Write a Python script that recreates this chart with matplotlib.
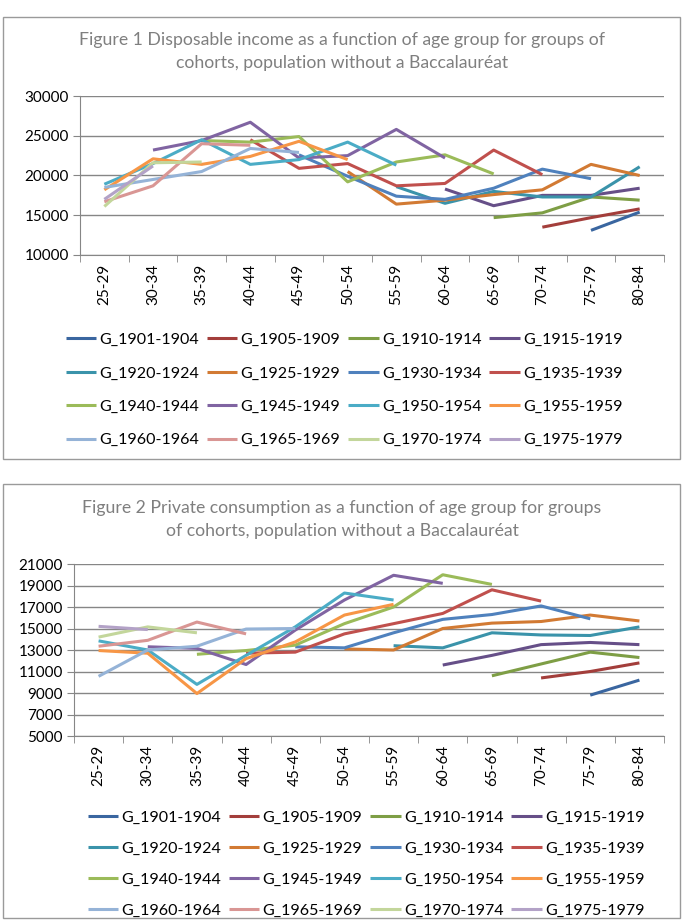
import numpy as np
import matplotlib
matplotlib.use("Agg")
from matplotlib import pyplot as plt
from matplotlib.patches import Rectangle

plt.rcParams['font.family'] = ['Lato', 'DejaVu Sans']

age_groups = ['25-29', '30-34', '35-39', '40-44', '45-49', '50-54',
              '55-59', '60-64', '65-69', '70-74', '75-79', '80-84']
cohorts = ['G_1901-1904', 'G_1905-1909', 'G_1910-1914', 'G_1915-1919',
           'G_1920-1924', 'G_1925-1929', 'G_1930-1934', 'G_1935-1939',
           'G_1940-1944', 'G_1945-1949', 'G_1950-1954', 'G_1955-1959',
           'G_1960-1964', 'G_1965-1969', 'G_1970-1974', 'G_1975-1979']
colors = ['#3A66A0', '#A33E3B', '#7E9E45', '#664F88', '#3A93AA', '#D27A33',
          '#4F81BD', '#C0504D', '#9BBB59', '#8064A2', '#4BACC6', '#F79646',
          '#95B3D7', '#D99694', '#C3D69B', '#B3A2C7']

N = None
# Figure 1 - disposable income
inc_1901 = [N, N, N, N, N, N, N, N, N, N, 13100, 15400]
inc_1905 = [N, N, N, N, N, N, N, N, N, 13500, 14700, 15800]
inc_1910 = [N, N, N, N, N, N, N, N, 14700, 15300, 17300, 16900]
inc_1915 = [N, N, N, N, N, N, N, 18300, 16200, 17500, 17500, 18400]
inc_1920 = [N, N, N, N, N, N, 18600, 16500, 18000, 17300, 17300, 21100]
inc_1925 = [N, N, N, N, N, 20500, 16400, 16900, 17600, 18200, 21400, 20000]
inc_1930 = [N, N, N, N, 22600, 19900, 17400, 17000, 18400, 20800, 19600, N]
inc_1935 = [N, N, N, 24500, 20900, 21500, 18700, 19000, 23200, 20100, N, N]
inc_1940 = [N, N, 24400, 24200, 24900, 19200, 21700, 22600, 20200, N, N, N]
inc_1945 = [N, 23200, 24400, 26700, 22200, 22500, 25800, 22200, N, N, N, N]
inc_1950 = [18900, 21500, 24500, 21400, 22000, 24200, 21300, N, N, N, N, N]
inc_1955 = [18200, 22100, 21400, 22400, 24300, 22000, N, N, N, N, N, N]
inc_1960 = [18500, 19500, 20500, 23400, 22900, N, N, N, N, N, N, N]
inc_1965 = [16700, 18700, 24000, 23800, N, N, N, N, N, N, N, N]
inc_1970 = [16100, 21600, 21700, N, N, N, N, N, N, N, N, N]
inc_1975 = [17000, 21200, N, N, N, N, N, N, N, N, N, N]

# Figure 2 - private consumption
con_1901 = [N, N, N, N, N, N, N, N, N, N, 8800, 10200]
con_1905 = [N, N, N, N, N, N, N, N, N, 10400, 11000, 11800]
con_1910 = [N, N, N, N, N, N, N, N, 10600, 11700, 12800, 12300]
con_1915 = [N, N, N, N, N, N, N, 11600, 12500, 13500, 13700, 13500]
con_1920 = [N, N, N, N, N, N, 13400, 13200, 14600, 14400, 14350, 15150]
con_1925 = [N, N, N, N, N, 13100, 13000, 15000, 15500, 15650, 16250, 15700]
con_1930 = [N, N, N, N, 13300, 13200, 14600, 15850, 16300, 17100, 15900, N]
con_1935 = [N, N, N, 12700, 12800, 14500, 15450, 16400, 18600, 17550, N, N]
con_1940 = [N, N, 12600, 12950, 13450, 15450, 17000, 20000, 19100, N, N, N]
con_1945 = [N, 13300, 13150, 11650, 14850, 17650, 19950, 19200, N, N, N, N]
con_1950 = [13850, 13000, 9800, 12500, 15150, 18300, 17650, N, N, N, N, N]
con_1955 = [12950, 12700, 8950, 12200, 13750, 16250, 17250, N, N, N, N, N]
con_1960 = [10550, 13000, 13350, 14950, 15000, N, N, N, N, N, N, N]
con_1965 = [13350, 13900, 15600, 14500, N, N, N, N, N, N, N, N]
con_1970 = [14200, 15150, 14600, N, N, N, N, N, N, N, N, N]
con_1975 = [15200, 14900, N, N, N, N, N, N, N, N, N, N]

income = [inc_1901, inc_1905, inc_1910, inc_1915, inc_1920, inc_1925,
          inc_1930, inc_1935, inc_1940, inc_1945, inc_1950, inc_1955,
          inc_1960, inc_1965, inc_1970, inc_1975]
consumption = [con_1901, con_1905, con_1910, con_1915, con_1920, con_1925,
               con_1930, con_1935, con_1940, con_1945, con_1950, con_1955,
               con_1960, con_1965, con_1970, con_1975]

W, H = 683, 921
fig = plt.figure(figsize=(W / 100, H / 100), dpi=100)

GRID = '#868686'
TITLE = '#7f7f7f'


def px_axes(x0, y0, x1, y1):
    # pixel box (top-left origin) -> figure axes
    return fig.add_axes([x0 / W, 1 - y1 / H, (x1 - x0) / W, (y1 - y0) / H])


def box(x0, y0, x1, y1):
    fig.patches.append(Rectangle((x0 / W, 1 - y1 / H), (x1 - x0) / W, (y1 - y0) / H,
                                 transform=fig.transFigure, fill=False,
                                 edgecolor='#9a9a9a', linewidth=1.0))


def draw_chart(rect, series, yticks, title_lines, title_y, leg_center, leg_dy):
    ax = px_axes(*rect)
    x = np.arange(len(age_groups))
    for vals, lab, c in zip(series, cohorts, colors):
        y = np.array([np.nan if v is None else v for v in vals], dtype=float)
        ax.plot(x, y, color=c, lw=2.2, label=lab, solid_capstyle='butt')
    ax.set_xlim(-0.5, len(age_groups) - 0.5)
    ax.set_ylim(yticks[0], yticks[-1])
    ax.set_yticks(yticks)
    ax.set_yticklabels([str(t) for t in yticks], fontsize=11)
    ax.set_xticks(x)
    ax.set_xticklabels(age_groups, rotation=90, fontsize=11)
    ax.set_xticks(np.arange(-0.5, len(age_groups)), minor=True)
    ax.tick_params(axis='x', which='major', length=0, pad=6)
    ax.tick_params(axis='x', which='minor', length=5, color=GRID)
    ax.tick_params(axis='y', length=5, color=GRID, pad=3)
    ax.yaxis.grid(True, color=GRID, lw=1)
    ax.set_axisbelow(True)
    for s in ['top', 'right']:
        ax.spines[s].set_visible(False)
    for s in ['left', 'bottom']:
        ax.spines[s].set_color(GRID)
    for i, t in enumerate(title_lines):
        fig.text(342 / W, 1 - (title_y + i * 23) / H, t, ha='center', va='center',
                 color=TITLE, fontsize=12.7)
    # excel fills the legend row by row, matplotlib column by column
    h, l = ax.get_legend_handles_labels()
    order = [r * 4 + c for c in range(4) for r in range(4)]
    fig.legend([h[i] for i in order], [l[i] for i in order], ncol=4, loc='center',
               bbox_to_anchor=(leg_center[0] / W, 1 - leg_center[1] / H),
               frameon=False, fontsize=11.5, handlelength=1.9, handletextpad=0.2,
               columnspacing=0.5, labelspacing=leg_dy)
    return ax


box(3, 17, 680, 459)
draw_chart((80, 96, 664, 255), income, [10000, 15000, 20000, 25000, 30000],
           ['Figure 1 Disposable income as a function of age group for groups of',
            'cohorts, population without a Baccalauréat'], 40, (344, 390), 1.2)

box(3, 484, 680, 918)
draw_chart((74, 564, 664, 736), consumption, list(range(5000, 21001, 2000)),
           ['Figure 2 Private consumption as a function of age group for groups',
            'of cohorts, population without a Baccalauréat'], 508, (366, 864), 1.05)

fig.savefig('out.png', dpi=100)
